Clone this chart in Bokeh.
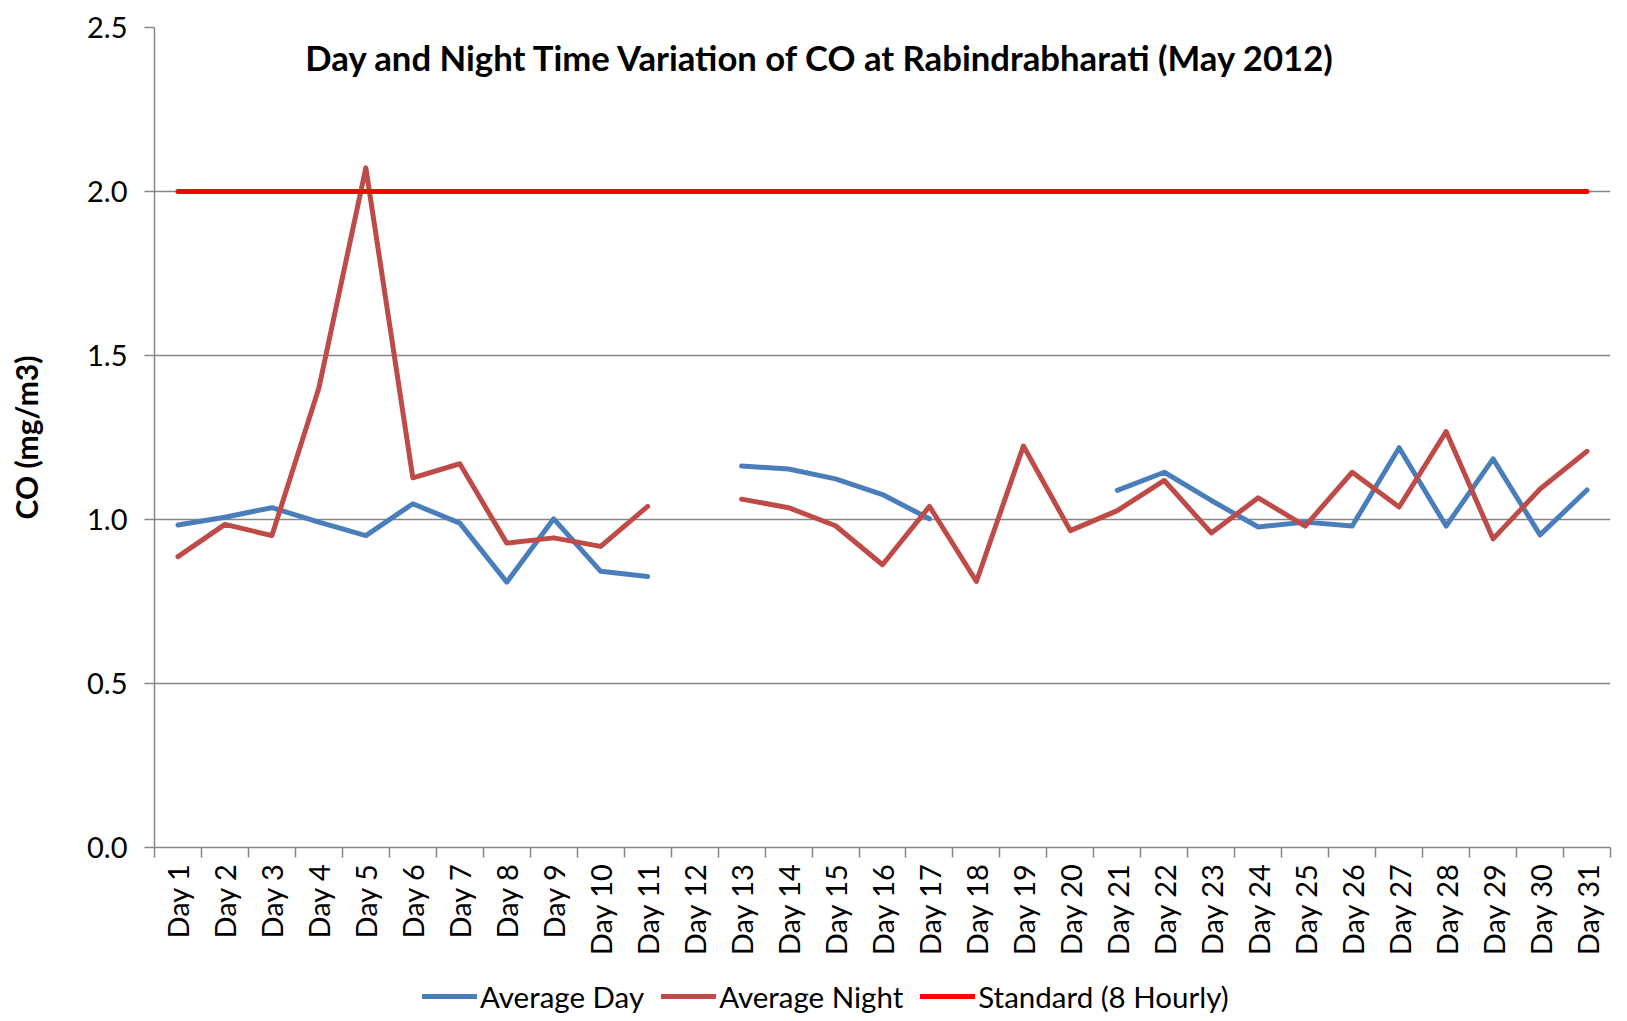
import math
from bokeh.plotting import figure
from bokeh.layouts import column
from bokeh.models import (FixedTicker, Label, Legend, LegendItem, Range1d,
                          ColumnDataSource, PrintfTickFormatter)
from bokeh.embed import file_html
from bokeh.resources import INLINE

nan = float("nan")

# ---------------- data ----------------
days = [f"Day {i}" for i in range(1, 32)]
avg_day = [0.983, 1.007, 1.036, 0.992, 0.951, 1.048, 0.989, 0.809, 1.002, 0.842,
           0.826, nan, 1.163, 1.154, 1.124, 1.076, 1.002, nan, nan, nan,
           1.089, 1.144, 1.058, 0.977, 0.992, 0.980, 1.219, 0.980, 1.185, 0.953,
           1.090]
avg_night = [0.887, 0.985, 0.951, 1.401, 2.072, 1.127, 1.170, 0.928, 0.944, 0.918,
             1.040, nan, 1.062, 1.036, 0.981, 0.862, 1.040, 0.811, 1.224, 0.966,
             1.027, 1.119, 0.959, 1.066, 0.980, 1.144, 1.038, 1.268, 0.941, 1.093,
             1.208]
standard = [2.0] * 31
y_ticks = [0.0, 0.5, 1.0, 1.5, 2.0, 2.5]
series_names = ["Average Day", "Average Night", "Standard (8 Hourly)"]
series_colors = ["#4A7EBB", "#BE4B48", "#FF0000"]
title_text = "Day and Night Time Variation of CO at Rabindrabharati (May 2012)"
y_label = "CO (mg/m3)"

# ---------------- main figure ----------------
FONT = "Lato"
GRID = "#868686"
LW = 5

pos = list(range(1, len(days) + 1))
src = ColumnDataSource(dict(x=pos, day=avg_day, night=avg_night, std=standard))
cols = ["day", "night", "std"]

p = figure(frame_width=1456, frame_height=820, output_backend="svg",
           toolbar_location=None,
           x_range=Range1d(0.5, len(days) + 0.5), y_range=Range1d(0, 2.5),
           min_border_left=154, min_border_right=17, min_border_top=27,
           min_border_bottom=123)
p.outline_line_color = None
p.background_fill_color = "white"
p.border_fill_color = "white"

for col, color in zip(cols, series_colors):
    p.line("x", col, source=src, line_color=color, line_width=LW,
           line_join="round", line_cap="round")

# x axis
xa = p.xaxis[0]
xa.ticker = FixedTicker(ticks=pos, minor_ticks=[i + 0.5 for i in range(0, len(days) + 1)])
xa.major_label_overrides = {i: d for i, d in zip(pos, days)}
xa.major_label_orientation = math.pi / 2
xa.major_tick_out = 0
xa.major_tick_in = 0
xa.minor_tick_out = 10
xa.minor_tick_in = 0
xa.minor_tick_line_color = GRID
xa.minor_tick_line_width = 1.5
xa.axis_line_color = GRID
xa.axis_line_width = 1.5
xa.major_label_text_font = FONT
xa.major_label_text_font_size = "29px"
xa.major_label_text_color = "black"
xa.major_label_standoff = 6

# y axis
ya = p.yaxis[0]
ya.ticker = FixedTicker(ticks=y_ticks, minor_ticks=[])
ya.formatter = PrintfTickFormatter(format="%.1f")
ya.major_tick_out = 10
ya.major_tick_in = 0
ya.major_tick_line_color = GRID
ya.major_tick_line_width = 1.5
ya.axis_line_color = GRID
ya.axis_line_width = 1.5
ya.major_label_text_font = FONT
ya.major_label_text_font_size = "29px"
ya.major_label_text_color = "black"
ya.major_label_standoff = 17
ya.axis_label = y_label
ya.axis_label_text_font = FONT
ya.axis_label_text_font_size = "30px"
ya.axis_label_text_font_style = "bold"
ya.axis_label_text_color = "black"
ya.axis_label_standoff = 40

p.xgrid.grid_line_color = None
p.ygrid.grid_line_color = GRID
p.ygrid.grid_line_width = 1.3

# title inside the plot area
p.add_layout(Label(x=14.7, y=2.41, text=title_text, text_font=FONT,
                   text_font_size="34.7px", text_font_style="bold",
                   text_align="center", text_baseline="middle",
                   text_color="black"))

# ---------------- legend strip below ----------------
# same series drawn out of view, only to carry the legend entries
lg = figure(width=1627, height=51, output_backend="svg", toolbar_location=None,
            x_range=Range1d(0.5, len(days) + 0.5), y_range=Range1d(10, 11),
            x_axis_location=None, y_axis_location=None,
            min_border=0)
lg.outline_line_color = None
lg.xgrid.grid_line_color = None
lg.ygrid.grid_line_color = None
lg.border_fill_color = "white"
lg.background_fill_color = "white"

items = []
for name, col, color in zip(series_names, cols, series_colors):
    r = lg.line("x", col, source=src, line_color=color, line_width=LW,
                line_cap="round")
    items.append(LegendItem(label=name, renderers=[r]))

legend = Legend(items=items, orientation="horizontal", location=(268, 7))
legend.label_text_font = FONT
legend.label_text_font_size = "29.5px"
legend.label_text_color = "black"
legend.label_height = 36
legend.glyph_width = 55
legend.glyph_height = 36
legend.label_standoff = 3
legend.spacing = 17
legend.padding = 0
legend.margin = 0
legend.border_line_alpha = 0
legend.background_fill_alpha = 0
lg.add_layout(legend)

layout = column(p, lg, spacing=0)
open("out.html", "w").write(file_html(layout, INLINE))
